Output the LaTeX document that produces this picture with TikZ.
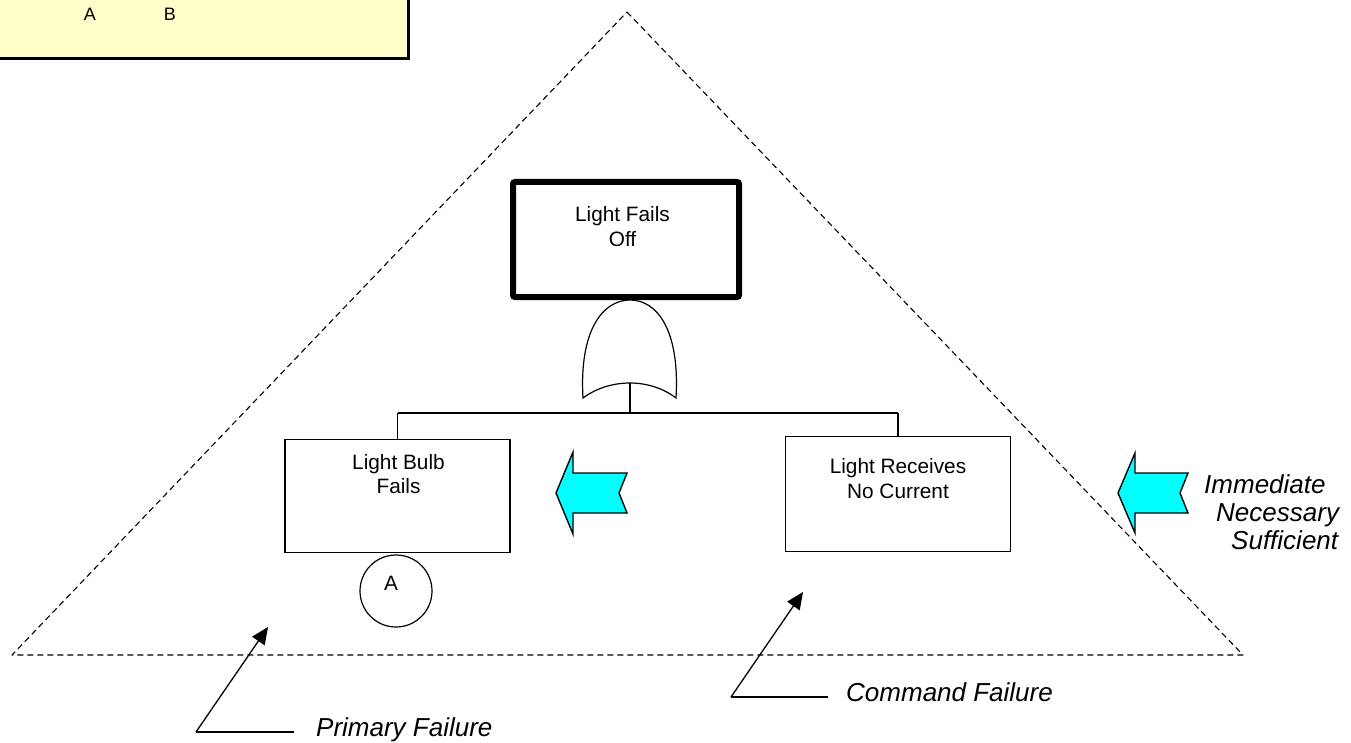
\documentclass[tikz,border=0pt]{standalone}
\usepackage{fontspec}
\setmainfont{Liberation Sans}
\usetikzlibrary{arrows.meta}
\definecolor{paleyellow}{HTML}{FFFFCC}
\definecolor{aqua}{HTML}{00FFFF}
\tikzset{
  evbox/.style={draw, line width=1.4pt, inner sep=0pt, minimum width=225pt},
  txt/.style={inner sep=0pt, anchor=base, font=\fontsize{20.8}{24}\selectfont},
  lbl/.style={inner sep=0pt, anchor=base west, font=\fontsize{26}{30}\selectfont\itshape},
  tri/.style={line width=1.1pt, dash pattern=on 6pt off 4pt},
  fatarrow/.style={draw, line width=1.4pt, fill=aqua, line join=miter},
  callout/.style={line width=1.3pt},
  pointer/.style={line width=1.3pt, -{Triangle[length=17pt, width=15pt]}}
}
\begin{document}
\begin{tikzpicture}[x=1pt, y=-1pt]
\useasboundingbox (0,0) rectangle (1351,743);
\clip (0,0) rectangle (1351,743);
\fill[white] (0,0) rectangle (1351,743);

% legend box (partly off-page)
\draw[line width=3pt, fill=paleyellow] (-10,-10) rectangle (408.5,58.5);
\node[txt, font=\fontsize{18}{22}\selectfont] (legA) at (90,21) {A};
\node[txt, font=\fontsize{18}{22}\selectfont] (legB) at (170,21) {B};

% dashed triangle
\coordinate (apex) at (627,12);
\coordinate (bl) at (12,655);
\coordinate (br) at (1243,655);
\draw[tri, line join=round] (apex) -- (br) -- (bl) -- cycle;

% top event
\node[draw, line width=6pt, rounded corners=2pt, inner sep=0pt,
      minimum width=226pt, minimum height=115pt] (top) at (626,239.5) {};
\node[txt] (topt1) at (622.5,222) {Light Fails};
\node[txt] (topt2) at (622.5,247) {Off};

% OR gate
\draw[line width=1.2pt, fill=white] (583,398) .. controls (579,330) and (603,300) .. (630,300)
  .. controls (657,300) and (680,330) .. (676,398)
  .. controls (650,378) and (610,378) .. (583,398) -- cycle;
\coordinate (gbot) at (630,383);
\coordinate (bus) at (630,413);

% lower events
\node[evbox, minimum height=113pt] (lbox) at (397.5,496) {};
\node[txt] (lt1) at (398.5,469) {Light Bulb};
\node[txt] (lt2) at (398.5,493) {Fails};

\node[evbox, minimum height=115pt] (rbox) at (898,494) {};
\node[txt] (rt1) at (898,473) {Light Receives};
\node[txt] (rt2) at (898,498) {No Current};

% connectors
\draw[line width=1.2pt] (gbot) -- (bus);
\draw[line width=1.2pt] (lbox.north |- bus) -- (rbox.north |- bus);
\draw[line width=1.2pt] (lbox.north |- bus) -- (lbox.north);
\draw[line width=1.2pt] (rbox.north |- bus) -- (rbox.north);

% basic event circle
\node[draw, circle, line width=1.2pt, minimum size=72pt, inner sep=0pt] (evA) at (396,591) {};
\node[txt] (evAt) at (391,590.5) {A};

% cyan arrows
\draw[fatarrow] (556,493) -- (573,452) -- (573,473) -- (627,473) -- (619,493)
  -- (627,513) -- (573,513) -- (573,534) -- cycle;
\draw[fatarrow] (1118,493) -- (1135,453) -- (1135,473) -- (1188,473) -- (1180,493)
  -- (1188,513) -- (1135,513) -- (1135,533) -- cycle;

% italic labels
\node[lbl] (imm) at (1204,493) {Immediate};
\node[lbl] (nec) at (1216,521) {Necessary};
\node[lbl] (suf) at (1231,549) {Sufficient};

\node[lbl] (pf) at (316,736) {Primary Failure};
\coordinate (pfend) at (294,732);
\coordinate (pfcorner) at (196,732);
\coordinate (pftip) at (268,627);
\draw[callout] (pfend) -- (pfcorner);
\draw[pointer] (pfcorner) -- (pftip);

\node[lbl] (cf) at (846,701) {Command Failure};
\coordinate (cfend) at (828,697);
\coordinate (cfcorner) at (731,697);
\coordinate (cftip) at (803,592);
\draw[callout] (cfend) -- (cfcorner);
\draw[pointer] (cfcorner) -- (cftip);
\end{tikzpicture}
\end{document}
